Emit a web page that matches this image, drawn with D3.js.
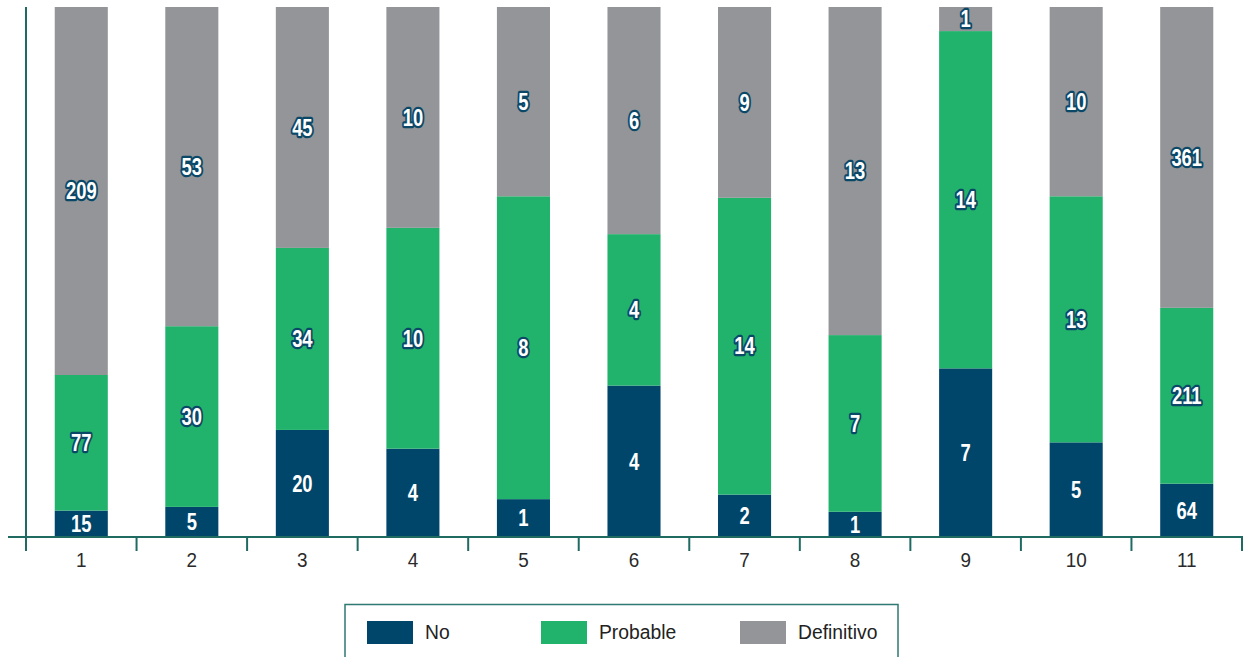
<!DOCTYPE html>
<html>
<head>
<meta charset="utf-8">
<script src="https://cdn.jsdelivr.net/npm/d3@7"></script>
<style>
  html, body { margin: 0; padding: 0; background: #fff; }
  svg { display: block; }
</style>
</head>
<body>
<svg id="chart" width="1243" height="657"></svg>
<script>
const categories = ["1","2","3","4","5","6","7","8","9","10","11"];
const seriesNames = ["No","Probable","Definitivo"];
const noValues = [15,5,20,4,1,4,2,1,7,5,64];
const probableValues = [77,30,34,10,8,4,14,7,14,13,211];
const definitivoValues = [209,53,45,10,5,6,9,13,1,10,361];
const colors = ["#00466a","#21b36b","#939598"];

const rows = categories.map((c, i) => ({
  cat: c, No: noValues[i], Probable: probableValues[i], Definitivo: definitivoValues[i]
}));

const svg = d3.select("#chart");
const pLeft = 26, pRight = 1242, pTop = 7, pBottom = 537;
const axisColor = "#1f6b62";

const x = d3.scaleBand().domain(categories).range([pLeft, pRight]).paddingInner(0.52).paddingOuter(0.26);
const y = d3.scaleLinear().domain([0, 1]).range([pBottom, pTop]);

const stack = d3.stack().keys(seriesNames).offset(d3.stackOffsetExpand);
const series = stack(rows);

const g = svg.append("g");
series.forEach((s, si) => {
  g.selectAll(null).data(s).enter().append("rect")
    .attr("x", d => x(d.data.cat))
    .attr("width", x.bandwidth())
    .attr("y", d => y(d[1]))
    .attr("height", d => y(d[0]) - y(d[1]))
    .attr("fill", colors[si]);
});

// labels
series.forEach((s, si) => {
  g.selectAll(null).data(s).enter().append("text")
    .attr("transform", d => `translate(${x(d.data.cat) + x.bandwidth() / 2},${(y(d[0]) + y(d[1])) / 2}) scale(0.8,1)`)
    .attr("dy", "0.36em")
    .attr("text-anchor", "middle")
    .attr("font-family", "'Liberation Sans', Arial, sans-serif")
    .attr("font-weight", "bold")
    .attr("font-size", 23)
    .attr("fill", "#fff")
    .attr("stroke", "#0b4868")
    .attr("stroke-width", si === 0 ? 0 : 4.5)
    .attr("stroke-linejoin", "round")
    .attr("paint-order", "stroke")
    .text(d => d.data[s.key]);
});

// axes
svg.append("line").attr("x1", pLeft).attr("x2", pLeft).attr("y1", pTop).attr("y2", pBottom + 14)
  .attr("stroke", axisColor).attr("stroke-width", 2);
svg.append("line").attr("x1", 8).attr("x2", 1243).attr("y1", pBottom).attr("y2", pBottom)
  .attr("stroke", axisColor).attr("stroke-width", 2);

const tickXs = d3.range(categories.length + 1).map(i => pLeft + i * (pRight - pLeft) / categories.length);
svg.selectAll(null).data(tickXs.slice(1)).enter().append("line")
  .attr("x1", d => d).attr("x2", d => d).attr("y1", pBottom).attr("y2", pBottom + 14)
  .attr("stroke", axisColor).attr("stroke-width", 2);

svg.selectAll(null).data(categories).enter().append("text")
  .attr("transform", d => `translate(${x(d) + x.bandwidth() / 2},567) scale(0.9,1)`)
  .attr("text-anchor", "middle")
  .attr("font-family", "'Liberation Sans', Arial, sans-serif")
  .attr("font-size", 21)
  .attr("fill", "#2a2a2a")
  .text(d => d);

// legend
svg.append("rect").attr("x", 345).attr("y", 604.5).attr("width", 553).attr("height", 60)
  .attr("fill", "none").attr("stroke", "#2e7a72").attr("stroke-width", 1.5);
const legX = [367, 541, 740];
seriesNames.forEach((n, i) => {
  svg.append("rect").attr("x", legX[i]).attr("y", 621).attr("width", 46).attr("height", 23).attr("fill", colors[i]);
  svg.append("text").attr("transform", `translate(${legX[i] + 58},639) scale(0.92,1)`)
    .attr("font-family", "'Liberation Sans', Arial, sans-serif")
    .attr("font-size", 21).attr("fill", "#222").text(n);
});
</script>
</body>
</html>
